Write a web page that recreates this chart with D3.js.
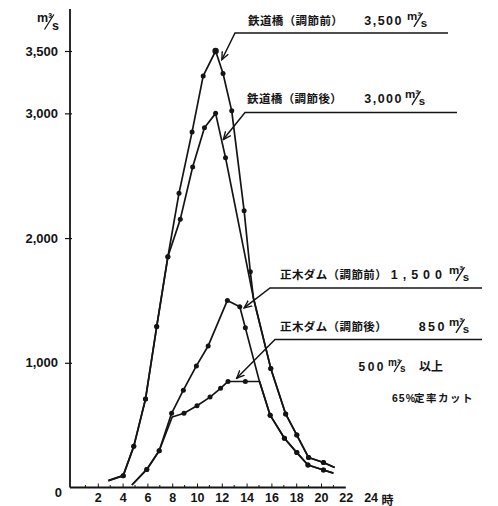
<!DOCTYPE html>
<html>
<head>
<meta charset="utf-8">
<script src="https://cdn.jsdelivr.net/npm/d3@7"></script>
<style>
  body { margin: 0; background: #fff; }
  svg { display: block; }
</style>
</head>
<body>
<svg id="chart"></svg>
<script>
window.addEventListener("load", main);

const WIDTH = 498;
const HEIGHT = 506;

const AXIS_X = 70; // y軸の位置

// 鉄道橋 (調節前)
const hoursA = [2.85, 4.05, 4.9, 5.85, 6.75, 7.65, 8.55, 9.6, 10.5, 11.5, 12.1, 12.8, 13.8, 14.3, 14.55, 15.95, 17.15, 18.05, 19.0, 20.2, 21.1];
const flowA  = [55, 95, 330, 710, 1290, 1850, 2360, 2850, 3300, 3500, 3320, 3020, 2220, 1730, 1520, 955, 590, 420, 240, 200, 160];
const dotsA  = [0, 1, 1, 1, 1, 1, 1, 1, 1, 1, 1, 1, 1, 1, 0, 1, 1, 1, 1, 1, 0];

// 鉄道橋 (調節後)
const hoursB = [2.85, 4.05, 4.9, 5.85, 6.75, 7.65, 8.65, 9.65, 10.6, 11.5, 12.3, 14.55, 15.95, 17.15, 18.05, 19.0, 20.2, 21.1];
const flowB  = [55, 95, 330, 710, 1290, 1850, 2150, 2570, 2885, 3000, 2645, 1520, 955, 590, 420, 240, 200, 160];
const dotsB  = [0, 1, 1, 1, 1, 1, 1, 1, 1, 1, 1, 0, 1, 1, 1, 1, 1, 0];

// 正木ダム (調節前)
const hoursC = [4.75, 5.95, 6.95, 7.95, 8.9, 9.95, 10.9, 12.45, 13.45, 13.9, 15.05, 15.9, 17.05, 18.05, 18.95, 20.2, 21.0];
const flowC  = [20, 145, 295, 595, 780, 975, 1135, 1500, 1450, 1280, 845, 580, 395, 280, 180, 140, 115];
const dotsC  = [0, 1, 1, 1, 1, 1, 1, 1, 1, 1, 0, 1, 1, 1, 1, 1, 0];

// 正木ダム (調節後)
const hoursD = [4.75, 5.95, 6.95, 8.0, 8.95, 10.0, 11.05, 11.9, 12.5, 13.9, 15.05, 15.9, 17.05, 18.05, 18.95, 20.2, 21.0];
const flowD  = [20, 145, 295, 565, 595, 655, 725, 795, 850, 850, 850, 580, 395, 280, 180, 140, 115];
const dotsD  = [0, 1, 1, 0, 1, 1, 1, 1, 1, 1, 0, 1, 1, 1, 1, 1, 0];

const yTicks = [0, 1000, 2000, 3000, 3500];
const xTicks = [2, 4, 6, 8, 10, 12, 14, 16, 18, 20, 22, 24];
const xMinor = [1, 3, 5, 7, 9, 11, 13, 15, 17, 19, 21];

// 注記: tip はデータ単位、elbow/end/文字位置はピクセル
const notes = [
  { name: "鉄道橋（調節前）", value: "3,500", tip: [12.0, 3430], elbow: [235, 33], end: 448, tx: 248, ty: 25, vx: 403, ls: 1.5, ux: 407 },
  { name: "鉄道橋（調節後）", value: "3,000", tip: [12.12, 2790], elbow: [245, 112.5], end: 457, tx: 247, ty: 103, vx: 403, ls: 1.5, ux: 405 },
  { name: "正木ダム（調節前）", value: "1,500", tip: [13.8, 1440], elbow: [270, 288], end: 482, tx: 280, ty: 279, vx: 447, ls: 5, ux: 449 },
  { name: "正木ダム（調節後）", value: "850", tip: [13.2, 876], elbow: [275, 339.5], end: 482, tx: 280, ty: 331, vx: 447, ls: 2.5, ux: 449 }
];

const INK = "#141414";
const NUM_FONT = "'Liberation Sans', Arial, sans-serif";
const JP_FONT = "'Noto Sans CJK JP', 'Noto Sans', sans-serif";

// m³/s の表記
function drawUnit(g, x, yc, s){
    g.append("text")
        .attr("x", x).attr("y", yc)
        .style("font-family", NUM_FONT)
        .style("font-size", s + "px")
        .style("font-weight", "bold")
        .attr("fill", INK)
        .text("m³");
    g.append("line")
        .attr("x1", x + s * 0.6).attr("y1", yc + s * 0.6)
        .attr("x2", x + s * 1.35).attr("y2", yc - s * 0.6)
        .attr("stroke", INK).attr("stroke-width", 1.3);
    g.append("text")
        .attr("x", x + s * 1.2).attr("y", yc + s * 0.6)
        .style("font-family", NUM_FONT)
        .style("font-size", s + "px")
        .style("font-weight", "bold")
        .attr("fill", INK)
        .text("s");
}

function main(){
    var svg = d3.select("#chart")
        .attr("width", WIDTH)
        .attr("height", HEIGHT);

    var x = d3.scaleLinear().domain([0, 24]).range([73, 370.6]);
    var y = d3.scaleLinear().domain([0, 3500]).range([487.5, 51]);

    svg.append("defs").append("marker")
        .attr("id", "arr")
        .attr("viewBox", "0 0 8 8")
        .attr("refX", 7).attr("refY", 4)
        .attr("markerWidth", 6).attr("markerHeight", 6)
        .attr("orient", "auto")
        .append("path")
        .attr("d", "M0,1 L7,4 L0,7")
        .attr("fill", "none")
        .attr("stroke", INK)
        .attr("stroke-width", 1.2);

    // 軸
    svg.append("line")
        .attr("x1", AXIS_X).attr("x2", AXIS_X)
        .attr("y1", y(0)).attr("y2", y(3500) - 42)
        .attr("stroke", INK).attr("stroke-width", 1.8);
    svg.append("line")
        .attr("x1", AXIS_X).attr("x2", x(22))
        .attr("y1", y(0)).attr("y2", y(0))
        .attr("stroke", INK).attr("stroke-width", 1.8);

    var gY = svg.append("g")
        .attr("transform", "translate(" + AXIS_X + ",0)")
        .call(d3.axisLeft(y).tickValues(yTicks).tickFormat(d3.format(",")).tickSize(5).tickPadding(7));
    gY.select(".domain").remove();
    gY.selectAll(".tick line").attr("x2", 2).attr("x1", -5).attr("stroke", INK).attr("stroke-width", 1.2);
    gY.selectAll(".tick").filter(d => d === 0).select("line").remove();
    gY.selectAll(".tick").filter(d => d === 0).select("text").attr("dy", "0.7em").attr("x", -8);
    gY.selectAll("text")
        .style("font-family", NUM_FONT)
        .style("font-size", "13px")
        .style("font-weight", "bold")
        .attr("fill", INK);

    var gX = svg.append("g")
        .attr("transform", "translate(0," + y(0) + ")")
        .call(d3.axisBottom(x).tickValues(xTicks).tickSizeInner(-4).tickSizeOuter(0).tickPadding(6));
    gX.select(".domain").remove();
    gX.selectAll(".tick line").attr("stroke", INK).attr("stroke-width", 1);
    gX.selectAll(".tick").filter(d => d > 20).select("line").remove();
    gX.selectAll("text")
        .style("font-family", NUM_FONT)
        .style("font-size", "12.5px")
        .style("font-weight", "bold")
        .attr("fill", INK);

    svg.append("g").selectAll("line")
        .data(xMinor)
        .enter()
        .append("line")
        .attr("x1", d => x(d)).attr("x2", d => x(d))
        .attr("y1", y(0)).attr("y2", y(0) - 2.5)
        .attr("stroke", INK).attr("stroke-width", 1);

    svg.append("text")
        .attr("x", x(24) + 11).attr("y", y(0) + 17)
        .style("font-family", JP_FONT)
        .style("font-size", "12px")
        .style("font-weight", "bold")
        .attr("fill", INK)
        .text("時");

    drawUnit(svg.append("g"), 37, 22, 12.5);

    // 曲線
    var series = [
        [hoursA, flowA, dotsA],
        [hoursB, flowB, dotsB],
        [hoursC, flowC, dotsC],
        [hoursD, flowD, dotsD]
    ];
    var line = d3.line().x(d => x(d.h)).y(d => y(d.q));

    series.forEach(s => {
        var pts = s[0].map((h, i) => ({ h: h, q: s[1][i], dot: s[2][i] }));
        svg.append("path")
            .datum(pts)
            .attr("d", line)
            .attr("fill", "none")
            .attr("stroke", INK)
            .attr("stroke-width", 1.7)
            .attr("stroke-linejoin", "round");
        svg.append("g").selectAll("circle")
            .data(pts.filter(d => d.dot))
            .enter()
            .append("circle")
            .attr("cx", d => x(d.h))
            .attr("cy", d => y(d.q))
            .attr("r", d => d.q === 3500 ? 3.2 : 2.5)
            .attr("fill", INK);
    });

    // 注記
    notes.forEach(n => {
        var g = svg.append("g");
        g.append("polyline")
            .attr("points", [[n.end, n.elbow[1]], n.elbow, [x(n.tip[0]), y(n.tip[1])]].map(p => p.join(",")).join(" "))
            .attr("fill", "none")
            .attr("stroke", INK)
            .attr("stroke-width", 1.5)
            .attr("marker-end", "url(#arr)");
        g.append("text")
            .attr("x", n.tx).attr("y", n.ty)
            .style("font-family", JP_FONT)
            .style("font-size", "11.5px")
            .style("font-weight", "bold")
            .style("letter-spacing", "0.4px")
            .attr("fill", INK)
            .text(n.name);
        g.append("text")
            .attr("x", n.vx).attr("y", n.ty)
            .attr("text-anchor", "end")
            .style("font-family", NUM_FONT)
            .style("font-size", "12.5px")
            .style("font-weight", "bold")
            .style("letter-spacing", n.ls + "px")
            .attr("fill", INK)
            .text(n.value);
        drawUnit(g, n.ux, n.ty - 5, 11.5);
    });

    svg.append("text")
        .attr("x", 386).attr("y", 371)
        .attr("text-anchor", "end")
        .style("font-family", NUM_FONT)
        .style("font-size", "12px")
        .style("font-weight", "bold")
        .style("letter-spacing", "2.5px")
        .attr("fill", INK)
        .text("500");
    drawUnit(svg.append("g"), 388, 366, 10);
    svg.append("text")
        .attr("x", 419).attr("y", 371)
        .style("font-family", JP_FONT)
        .style("font-size", "12px")
        .style("font-weight", "bold")
        .attr("fill", INK)
        .text("以上");

    svg.append("text")
        .attr("x", 392).attr("y", 402)
        .style("font-family", NUM_FONT)
        .style("font-size", "10.5px")
        .style("font-weight", "bold")
        .style("letter-spacing", "1px")
        .attr("fill", INK)
        .text("65%");
    svg.append("text")
        .attr("x", 414).attr("y", 402)
        .style("font-family", JP_FONT)
        .style("font-size", "10.5px")
        .style("font-weight", "bold")
        .style("letter-spacing", "1.5px")
        .attr("fill", INK)
        .text("定率カット");
}
</script>
</body>
</html>
